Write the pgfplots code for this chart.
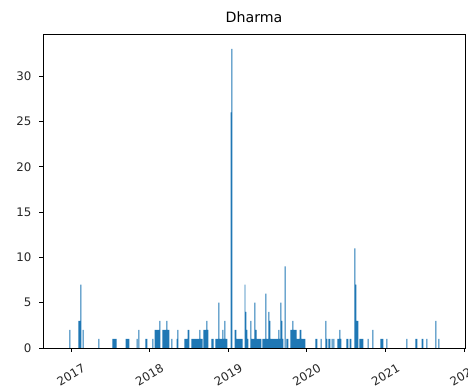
\documentclass[border=0pt]{standalone}
\usepackage{fontspec}
\setmainfont{DejaVu Sans}
\usepackage{pgfplots}
\usepackage{pgfplotstable}
\pgfplotsset{compat=1.18}
\definecolor{c0}{HTML}{1F77B4}
\pgfplotstableread{
x y
2016.987 2
2017.102 3
2017.115 3
2017.127 7
2017.153 2
2017.356 1
2017.534 1
2017.547 1
2017.560 1
2017.573 1
2017.700 1
2017.712 1
2017.725 1
2017.738 1
2017.840 1
2017.865 2
2017.954 1
2017.967 1
2018.043 1
2018.069 2
2018.081 2
2018.094 2
2018.107 2
2018.120 2
2018.132 3
2018.170 2
2018.183 2
2018.196 2
2018.209 2
2018.221 3
2018.234 2
2018.247 2
2018.285 1
2018.349 1
2018.361 2
2018.450 1
2018.463 1
2018.476 1
2018.489 2
2018.501 2
2018.539 1
2018.552 1
2018.565 1
2018.578 1
2018.590 1
2018.603 1
2018.616 1
2018.628 1
2018.641 2
2018.654 1
2018.667 1
2018.692 2
2018.705 2
2018.718 2
2018.730 3
2018.743 2
2018.794 1
2018.807 1
2018.845 1
2018.858 1
2018.870 1
2018.883 5
2018.896 1
2018.908 1
2018.921 1
2018.934 2
2018.947 1
2018.959 3
2018.972 1
2018.985 1
2019.036 26
2019.048 33
2019.087 2
2019.099 2
2019.112 1
2019.125 1
2019.137 1
2019.150 1
2019.163 1
2019.176 1
2019.214 7
2019.226 4
2019.239 2
2019.252 1
2019.290 3
2019.303 1
2019.316 1
2019.328 1
2019.341 5
2019.354 2
2019.366 1
2019.379 1
2019.392 1
2019.405 1
2019.417 1
2019.443 1
2019.455 1
2019.468 1
2019.481 6
2019.494 1
2019.506 1
2019.519 4
2019.532 3
2019.545 1
2019.557 1
2019.570 1
2019.583 1
2019.595 1
2019.608 1
2019.621 1
2019.634 1
2019.646 2
2019.659 1
2019.672 5
2019.684 3
2019.697 1
2019.723 9
2019.748 1
2019.761 1
2019.799 2
2019.812 2
2019.824 3
2019.837 2
2019.850 2
2019.863 2
2019.875 1
2019.888 1
2019.901 1
2019.914 2
2019.926 2
2019.939 1
2019.952 1
2019.964 1
2019.977 1
2020.117 1
2020.130 1
2020.181 1
2020.244 3
2020.257 1
2020.282 1
2020.295 1
2020.321 1
2020.346 1
2020.397 1
2020.410 1
2020.422 2
2020.435 1
2020.511 1
2020.524 1
2020.550 1
2020.562 1
2020.613 11
2020.626 7
2020.639 3
2020.651 3
2020.677 1
2020.690 1
2020.702 1
2020.715 1
2020.779 1
2020.842 2
2020.944 1
2020.957 1
2020.969 1
2021.020 1
2021.275 1
2021.389 1
2021.402 1
2021.466 1
2021.478 1
2021.529 1
2021.644 3
2021.682 1
}\dharma
\begin{document}
\begin{tikzpicture}
\begin{axis}[
  scale only axis,
  width=422pt, height=314pt,
  xmin=2016.644, xmax=2022.013,
  ymin=0, ymax=34.65,
  xtick={2017,2018,2019,2020,2021,2022},
  xticklabels={2017,2018,2019,2020,2021,2022},
  ytick={0,5,10,15,20,25,30},
  tick align=outside,
  xtick pos=bottom, ytick pos=left,
  major tick length=4pt,
  every tick/.style={black, line width=0.95pt},
  axis line style={black, line width=0.95pt},
  /pgf/number format/assume math mode=true,
  tick label style={font=\fontsize{11.8}{14}\selectfont, text=black!85},
  y tick label style={xshift=-4pt},
  x tick label style={yshift=-23pt, rotate=30, anchor=center},
  title={Dharma},
  title style={font=\fontsize{14.2}{16}\selectfont, at={(0.5,1)}, anchor=base, yshift=6pt},
]
\addplot[ybar, bar width=0.0127, fill=c0, draw=none] table[x=x, y=y]{\dharma};
\end{axis}
\pgfresetboundingbox
\path[use as bounding box] ([xshift=-43pt,yshift=-44pt]current axis.south west) rectangle ([xshift=3pt,yshift=34pt]current axis.north east);
\end{tikzpicture}
\end{document}
